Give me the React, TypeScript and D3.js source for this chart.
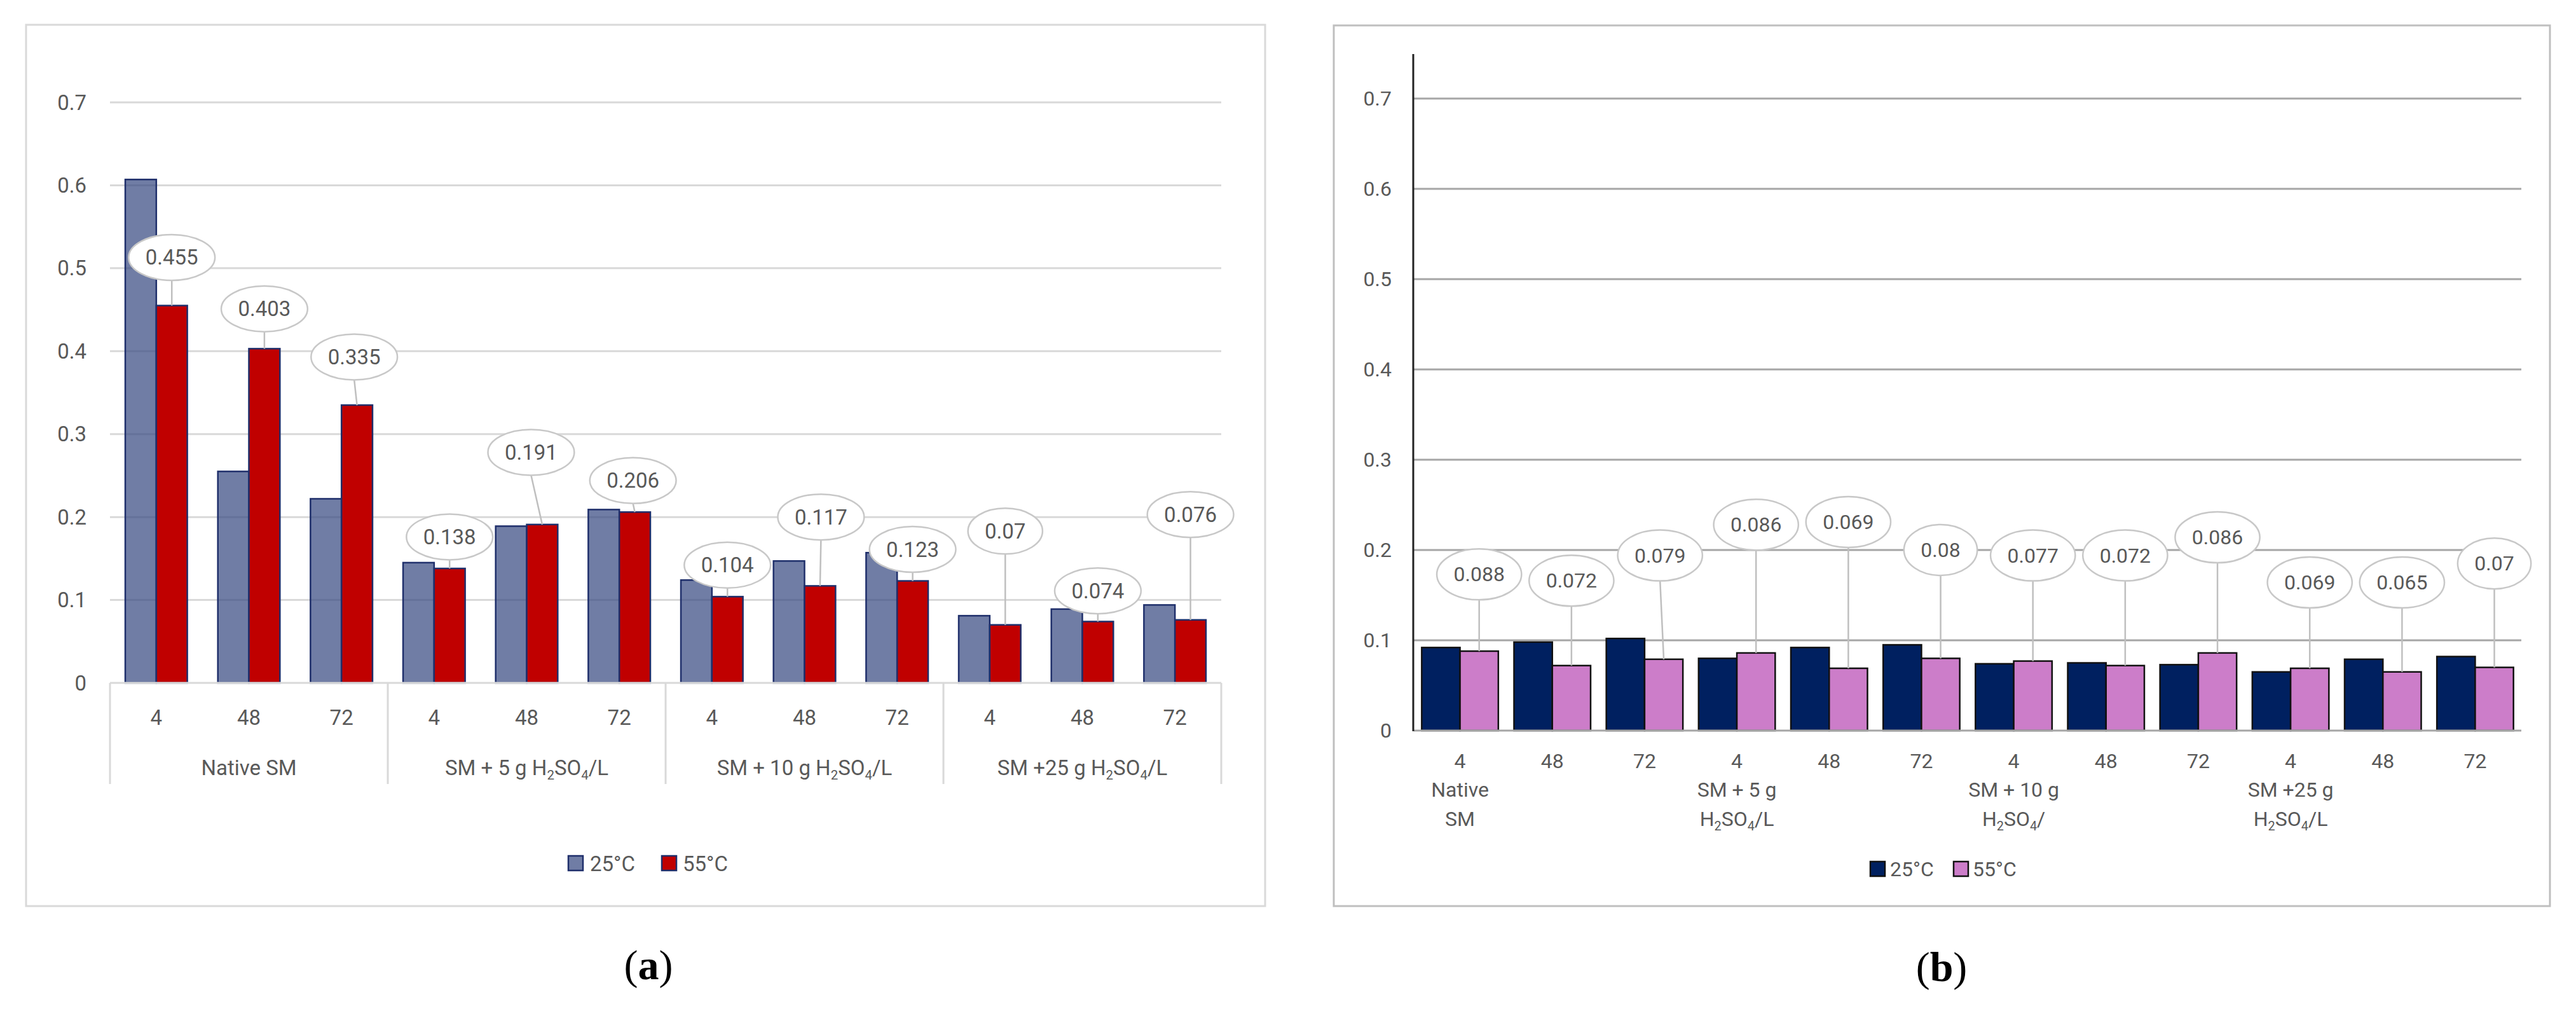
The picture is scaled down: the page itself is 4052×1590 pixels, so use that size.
import * as d3 from 'd3';
import React, { useEffect, useRef } from 'react';

// Hours on the x axis, grouped by treatment
const hours = ["4", "48", "72", "4", "48", "72", "4", "48", "72", "4", "48", "72"];
const groupsA = ["Native SM", "SM + 5 g H_2SO_4/L", "SM + 10 g H_2SO_4/L", "SM +25 g H_2SO_4/L"];
const groupsB = [["Native", "SM"], ["SM + 5 g", "H_2SO_4/L"], ["SM + 10 g", "H_2SO_4/"], ["SM +25 g", "H_2SO_4/L"]];
const seriesNames = ["25°C", "55°C"];
const yTicks = [0, 0.1, 0.2, 0.3, 0.4, 0.5, 0.6, 0.7];

// Panel (a)
const a25 = [0.607, 0.255, 0.222, 0.145, 0.189, 0.209, 0.124, 0.147, 0.157, 0.081, 0.089, 0.094];
const a55 = [0.455, 0.403, 0.335, 0.138, 0.191, 0.206, 0.104, 0.117, 0.123, 0.07, 0.074, 0.076];
// Panel (b)
const b25 = [0.092, 0.098, 0.102, 0.080, 0.092, 0.095, 0.074, 0.075, 0.073, 0.065, 0.079, 0.082];
const b55 = [0.088, 0.072, 0.079, 0.086, 0.069, 0.08, 0.077, 0.072, 0.086, 0.069, 0.065, 0.07];

// where the 55°C callouts were dragged to (value units) + small sideways nudges (share of a category)
const calloutA = [0.513, 0.451, 0.393, 0.176, 0.278, 0.244, 0.142, 0.200, 0.161, 0.183, 0.111, 0.203];
const nudgeA = [0, 0, -0.03, 0, -0.12, -0.02, 0, 0.01, 0, 0, 0, 0];
const calloutB = [0.173, 0.166, 0.194, 0.228, 0.231, 0.200, 0.194, 0.194, 0.214, 0.164, 0.164, 0.185];
const nudgeB = [0, 0, -0.04, 0, 0, 0, 0, 0, 0, 0, 0, 0];

const FONT = "Roboto, 'Open Sans', sans-serif";
const TEXT = "#595959";

// writes "H_2SO_4" with real subscripts
function richText(sel: any, str: string, fs: number) {
  const parts = str.split(/_(\d)/);
  parts.forEach((p, i) => {
    if (!p) return;
    if (i % 2 === 1) {
      sel.append("tspan").attr("font-size", fs * 0.62).attr("dy", fs * 0.22).text(p);
    } else {
      sel.append("tspan").attr("dy", i > 0 ? -fs * 0.22 : 0).text(p);
    }
  });
}

interface PanelCfg {
  frame: [number, number, number, number];
  frameColor: string;
  xRange: [number, number];
  yRange: [number, number];
  pad: number;
  s25: number[];
  s55: number[];
  callouts: number[];
  nudges: number[];
  fill25: string;
  op25: number;
  fill55: string;
  barStroke: string;
  gridColor: string;
  tickX: number;
  fs: number;
  ry: number;
}

function drawPanel(svg: any, c: PanelCfg) {
  const g = svg.append("g");
  g.append("rect")
    .attr("x", c.frame[0]).attr("y", c.frame[1])
    .attr("width", c.frame[2]).attr("height", c.frame[3])
    .attr("fill", "#fff").attr("stroke", c.frameColor).attr("stroke-width", 3);

  const x = d3.scaleBand<number>()
    .domain(d3.range(hours.length))
    .range(c.xRange)
    .paddingInner(c.pad)
    .paddingOuter(c.pad / 2);
  const xs = d3.scaleBand().domain(seriesNames).range([0, x.bandwidth()]);
  const y = d3.scaleLinear().domain([0, 0.7]).range(c.yRange);

  // gridlines
  g.selectAll(".grid")
    .data(yTicks.filter(t => t > 0))
    .enter().append("line")
    .attr("x1", c.xRange[0]).attr("x2", c.xRange[1])
    .attr("y1", (d: number) => y(d)).attr("y2", (d: number) => y(d))
    .attr("stroke", c.gridColor).attr("stroke-width", 3);

  // y tick labels
  g.selectAll(".ytick")
    .data(yTicks)
    .enter().append("text")
    .attr("x", c.tickX).attr("y", (d: number) => y(d))
    .attr("text-anchor", "end").attr("dominant-baseline", "central")
    .attr("font-family", FONT).attr("font-size", c.fs).attr("fill", TEXT)
    .text((d: number) => String(d));

  const rows = hours.map((h, i) => ({ i, v25: c.s25[i], v55: c.s55[i] }));

  g.selectAll(".b25")
    .data(rows).enter().append("rect")
    .attr("x", (d: any) => (x(d.i) as number) + (xs("25°C") as number))
    .attr("y", (d: any) => y(d.v25))
    .attr("width", xs.bandwidth())
    .attr("height", (d: any) => y(0) - y(d.v25))
    .attr("fill", c.fill25).attr("fill-opacity", c.op25)
    .attr("stroke", c.barStroke).attr("stroke-width", 2.5);

  g.selectAll(".b55")
    .data(rows).enter().append("rect")
    .attr("x", (d: any) => (x(d.i) as number) + (xs("55°C") as number))
    .attr("y", (d: any) => y(d.v55))
    .attr("width", xs.bandwidth())
    .attr("height", (d: any) => y(0) - y(d.v55))
    .attr("fill", c.fill55)
    .attr("stroke", c.barStroke).attr("stroke-width", 2.5);

  // callouts for the 55°C series
  rows.forEach(d => {
    const barX = (x(d.i) as number) + (xs("55°C") as number) + xs.bandwidth() / 2;
    const cx = barX + c.nudges[d.i] * x.step();
    const cy = y(c.callouts[d.i]);
    const label = String(d.v55);
    const rx = (label.replace(".", "").length * 0.56 + 0.3) * c.fs / 2 + 26;
    if (cy + c.ry < y(d.v55)) {
      g.append("line")
        .attr("x1", cx).attr("y1", cy + c.ry)
        .attr("x2", barX).attr("y2", y(d.v55))
        .attr("stroke", "#BFBFBF").attr("stroke-width", 2.5);
    }
    g.append("ellipse")
      .attr("cx", cx).attr("cy", cy).attr("rx", rx).attr("ry", c.ry)
      .attr("fill", "#fff").attr("stroke", "#C8C8C8").attr("stroke-width", 2.5);
    g.append("text")
      .attr("x", cx).attr("y", cy)
      .attr("text-anchor", "middle").attr("dominant-baseline", "central")
      .attr("font-family", FONT).attr("font-size", c.fs).attr("fill", TEXT)
      .text(label);
  });

  return { g, x, y };
}

function legend(g: any, items: { x: number; tx: number; fill: string; op: number }[], ly: number, stroke: string, fs: number) {
  items.forEach((it, i) => {
    g.append("rect")
      .attr("x", it.x).attr("y", ly - 12).attr("width", 23).attr("height", 23)
      .attr("fill", it.fill).attr("fill-opacity", it.op)
      .attr("stroke", stroke).attr("stroke-width", 2.5);
    g.append("text")
      .attr("x", it.tx).attr("y", ly)
      .attr("dominant-baseline", "central")
      .attr("font-family", FONT).attr("font-size", fs).attr("fill", TEXT)
      .text(seriesNames[i]);
  });
}

const App: React.FC = () => {
  const ref = useRef<SVGSVGElement>(null);

  useEffect(() => {
    if (!ref.current) return;
    const svg = d3.select(ref.current);
    svg.selectAll("*").remove();
    svg.append("rect").attr("width", 4052).attr("height", 1590).attr("fill", "#fff");

    // ---------- panel (a) ----------
    const A = drawPanel(svg, {
      frame: [41, 39, 1949, 1386], frameColor: "#D9D9D9",
      xRange: [173, 1921], yRange: [1074, 161], pad: 0.33,
      s25: a25, s55: a55, callouts: calloutA, nudges: nudgeA,
      fill25: "#33467F", op25: 0.7, fill55: "#C00000", barStroke: "#1F2F6B",
      gridColor: "#D9D9D9", tickX: 136, fs: 33, ry: 36,
    });
    // category axis with group boxes
    A.g.append("line")
      .attr("x1", 173).attr("x2", 1921).attr("y1", A.y(0)).attr("y2", A.y(0))
      .attr("stroke", "#D9D9D9").attr("stroke-width", 3);
    d3.range(0, 13, 3).forEach(k => {
      const xx = k === 12 ? 1921 : (A.x(k) as number) - A.x.step() * 0.165;
      A.g.append("line")
        .attr("x1", xx).attr("x2", xx).attr("y1", A.y(0)).attr("y2", 1233)
        .attr("stroke", "#D9D9D9").attr("stroke-width", 3);
    });
    hours.forEach((h, i) => {
      A.g.append("text")
        .attr("x", (A.x(i) as number) + A.x.bandwidth() / 2).attr("y", 1128)
        .attr("text-anchor", "middle").attr("dominant-baseline", "central")
        .attr("font-family", FONT).attr("font-size", 33).attr("fill", TEXT)
        .text(h);
    });
    groupsA.forEach((name, k) => {
      const t = A.g.append("text")
        .attr("x", (A.x(k * 3 + 1) as number) + A.x.bandwidth() / 2).attr("y", 1219)
        .attr("text-anchor", "middle")
        .attr("font-family", FONT).attr("font-size", 33).attr("fill", TEXT);
      richText(t, name, 33);
    });
    legend(A.g, [
      { x: 894, tx: 928, fill: "#33467F", op: 0.7 },
      { x: 1041, tx: 1074, fill: "#C00000", op: 1 },
    ], 1358, "#1F2F6B", 33);

    // ---------- panel (b) ----------
    const B = drawPanel(svg, {
      frame: [2098, 40, 1913, 1385], frameColor: "#BFBFBF",
      xRange: [2224, 3966], yRange: [1149, 155], pad: 0.17,
      s25: b25, s55: b55, callouts: calloutB, nudges: nudgeB,
      fill25: "#002060", op25: 1, fill55: "#CC7DC9", barStroke: "#111",
      gridColor: "#A6A6A6", tickX: 2189, fs: 32, ry: 40,
    });
    B.g.append("line")
      .attr("x1", 2224).attr("x2", 3966).attr("y1", B.y(0)).attr("y2", B.y(0))
      .attr("stroke", "#A6A6A6").attr("stroke-width", 3);
    B.g.append("line")
      .attr("x1", 2223).attr("x2", 2223).attr("y1", 85).attr("y2", B.y(0) + 1)
      .attr("stroke", "#222").attr("stroke-width", 3);
    hours.forEach((h, i) => {
      B.g.append("text")
        .attr("x", (B.x(i) as number) + B.x.bandwidth() / 2).attr("y", 1197)
        .attr("text-anchor", "middle").attr("dominant-baseline", "central")
        .attr("font-family", FONT).attr("font-size", 32).attr("fill", TEXT)
        .text(h);
    });
    groupsB.forEach((lines, k) => {
      const cx = (B.x(k * 3) as number) + B.x.bandwidth() / 2;
      lines.forEach((ln, j) => {
        const t = B.g.append("text")
          .attr("x", cx).attr("y", 1253 + j * 46)
          .attr("text-anchor", "middle")
          .attr("font-family", FONT).attr("font-size", 32).attr("fill", TEXT);
        richText(t, ln, 32);
      });
    });
    legend(B.g, [
      { x: 2942, tx: 2973, fill: "#002060", op: 1 },
      { x: 3073, tx: 3103, fill: "#CC7DC9", op: 1 },
    ], 1367, "#111", 32);

    // ---------- captions ----------
    [["a", 1020, 1517], ["b", 3054, 1520]].forEach(([ch, cx, cy]) => {
      const t = svg.append("text")
        .attr("x", cx as number).attr("y", cy as number)
        .attr("text-anchor", "middle").attr("dominant-baseline", "central")
        .attr("font-family", "'Liberation Serif', 'DejaVu Serif', serif")
        .attr("font-size", 66).attr("fill", "#000");
      t.append("tspan").text("(");
      t.append("tspan").attr("font-weight", "bold").text(ch as string);
      t.append("tspan").text(")");
    });
  }, []);

  return (
    <svg ref={ref} width={4052} height={1590}
      style={{ position: "absolute", left: 0, top: 0, display: "block" }} />
  );
};

export default App;
